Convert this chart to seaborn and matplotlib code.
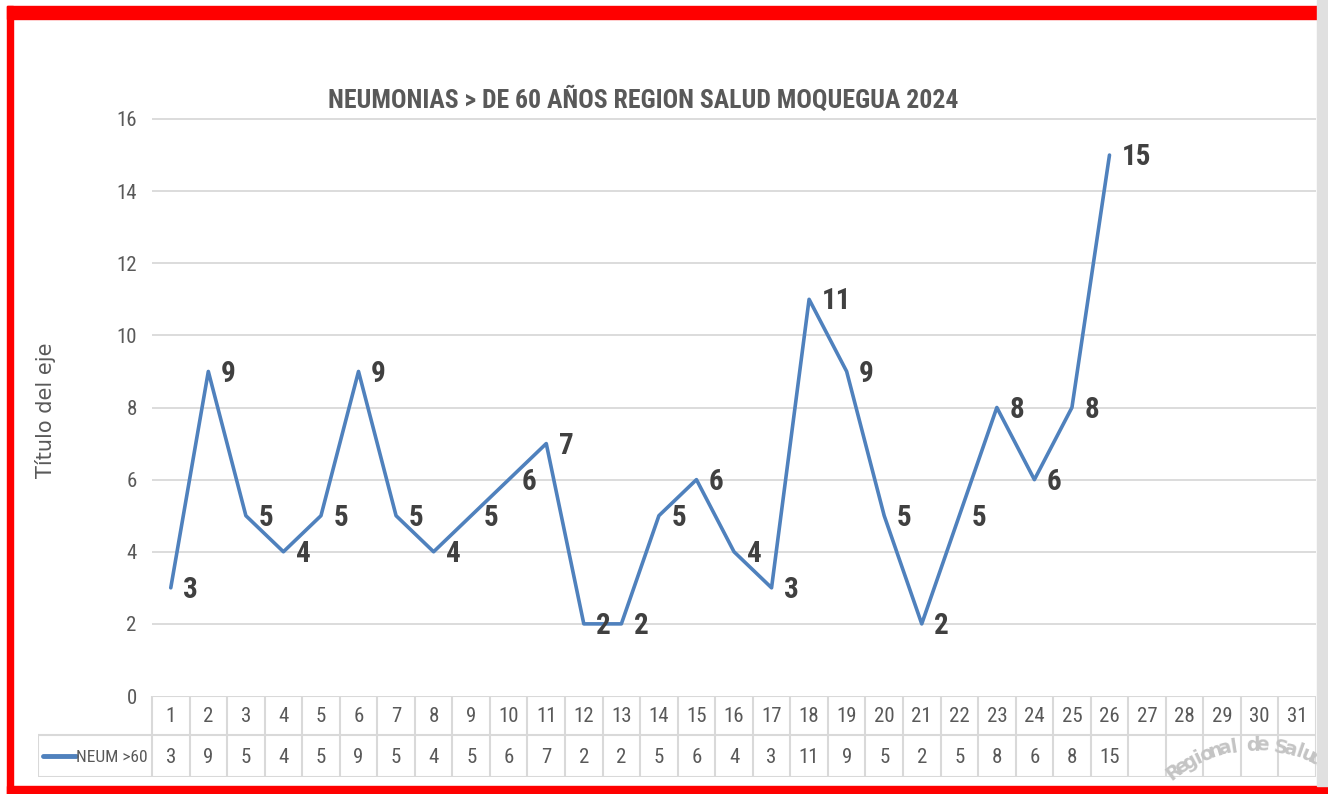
import numpy as np
import pandas as pd
import seaborn as sns
import matplotlib.pyplot as plt
import matplotlib.font_manager as fm
from matplotlib.patches import Rectangle, Circle

# data
days = list(range(1, 32))
cases = [3, 9, 5, 4, 5, 9, 5, 4, 5, 6, 7, 2, 2, 5, 6, 4, 3, 11, 9, 5, 2, 5, 8, 6, 8, 15]
series_name = "NEUM >60"
title = "NEUMONIAS > DE 60 AÑOS REGION SALUD MOQUEGUA 2024"
y_ticks = [0, 2, 4, 6, 8, 10, 12, 14, 16]

W, H = 1328, 794

# pick a narrow font if one is installed
names = {f.name for f in fm.fontManager.ttflist}
cands = ["Liberation Sans Narrow", "Roboto Condensed", "Open Sans Condensed",
         "Noto Sans Condensed", "DejaVu Sans Condensed", "Arial Narrow"]
narrow_name = next((c for c in cands if c in names), None)
if narrow_name is None:
    cond = [f.name for f in fm.fontManager.ttflist
            if str(f.stretch) in ("condensed", "semi-condensed", "extra-condensed")]
    narrow_name = cond[0] if cond else "DejaVu Sans"
narrow = [narrow_name, "DejaVu Sans"]

gray_txt = "#595959"
line_color = "#4F81BD"
grid_color = "#D9D9D9"

sns.set_style("white")
plt.rcParams["font.family"] = narrow

df = pd.DataFrame({"day": days[:len(cases)], "cases": cases})

fig = plt.figure(figsize=(W / 100, H / 100), dpi=100)
fig.patch.set_facecolor("white")


def px_rect(x0, y0, x1, y1):
    return [x0 / W, 1 - y1 / H, (x1 - x0) / W, (y1 - y0) / H]


# main plot area (y=0 at px 696, y=16 at px 119)
unit = (696 - 119) / 16
top_px = 696 - 16.6 * unit
ax = fig.add_axes(px_rect(152, top_px, 1316, 696))
sns.lineplot(data=df, x="day", y="cases", ax=ax, color=line_color, linewidth=2.6)
ax.set_xlim(0.5, 31.5)
ax.set_ylim(0, 16.6)
ax.set_yticks(y_ticks)
ax.set_yticklabels([str(t) for t in y_ticks], fontsize=15, color=gray_txt)
ax.set_xticks([])
ax.set_xlabel("")
ax.set_ylabel("")
ax.tick_params(axis="y", length=0, pad=11)
for t in y_ticks[1:]:
    ax.axhline(t, color=grid_color, lw=1.3, zorder=0)
for s in ax.spines.values():
    s.set_visible(False)

for d, v in zip(df["day"], df["cases"]):
    ax.annotate(str(v), (d, v), xytext=(9, -1.5), textcoords="offset points",
                ha="left", va="center", fontsize=21, fontweight="bold",
                color="#404040")

fig.text(643 / W, 1 - 100 / H, title, ha="center", va="center",
         fontsize=18.5, fontweight="bold", color=gray_txt)
fig.text(45 / W, 1 - 410 / H, "Título del eje", rotation=90, ha="center",
         va="center", fontsize=15, color=gray_txt, family=["DejaVu Sans"])

# data table below the plot
col_w = (1316 - 152) / 31
left_x = 0.5 - (152 - 38) / col_w
tab = fig.add_axes(px_rect(38, 696, 1316, 777))
tab.set_xlim(left_x, 31.5)
tab.set_ylim(777, 696)
tab.axis("off")
lc = "#D9D9D9"
tab.plot([0.5, 31.5], [696, 696], color=lc, lw=1.5)
tab.plot([left_x, 31.5], [735, 735], color=lc, lw=1.5)
tab.plot([left_x, 31.5], [777, 777], color=lc, lw=1.5)
for k in range(32):
    tab.plot([0.5 + k, 0.5 + k], [696, 777], color=lc, lw=1.5)
tab.plot([left_x, left_x], [735, 777], color=lc, lw=1.5)
for d in days:
    tab.text(d, 716, str(d), ha="center", va="center", fontsize=15, color=gray_txt)
for d, v in zip(df["day"], df["cases"]):
    tab.text(d, 757, str(v), ha="center", va="center", fontsize=15, color=gray_txt)


def px2x(p):
    return 0.5 + (p - 152) / col_w


tab.plot([px2x(43), px2x(76)], [756, 756], color=line_color, lw=3.5,
         solid_capstyle="round")
tab.text(px2x(148), 757, series_name, ha="right", va="center", fontsize=12.5,
         color=gray_txt)

# faint watermark logo in the corner
cx, cy, r = 1255, 880, 135
word = "Regional de Salud"
angles = 127 - 4.0 * np.arange(len(word))
for ch, a in zip(word, angles):
    x = cx + r * np.cos(np.radians(a))
    y = cy - r * np.sin(np.radians(a))
    fig.text(x / W, 1 - y / H, ch, rotation=a - 90, ha="center", va="center",
             fontsize=14, fontweight="bold", color="#C4C4C4",
             family=["DejaVu Sans"])
fig.patches.append(Circle((cx / W, 1 - cy / H), 105 / W, transform=fig.transFigure,
                          fill=False, ec="#C4C4C4", lw=3, zorder=1))

# red frame and grey strip
for (x0, y0, x1, y1), col in [((7, 6, 1317, 19), "red"),
                              ((7, 6, 13, 794), "red"),
                              ((7, 786, 1328, 794), "red"),
                              ((1317, 0, 1328, 786), "#E0E0E0")]:
    x, y, w, h = px_rect(x0, y0, x1, y1)
    fig.patches.append(Rectangle((x, y), w, h, transform=fig.transFigure,
                                 color=col, zorder=20))

fig.savefig("out.png", dpi=100)
